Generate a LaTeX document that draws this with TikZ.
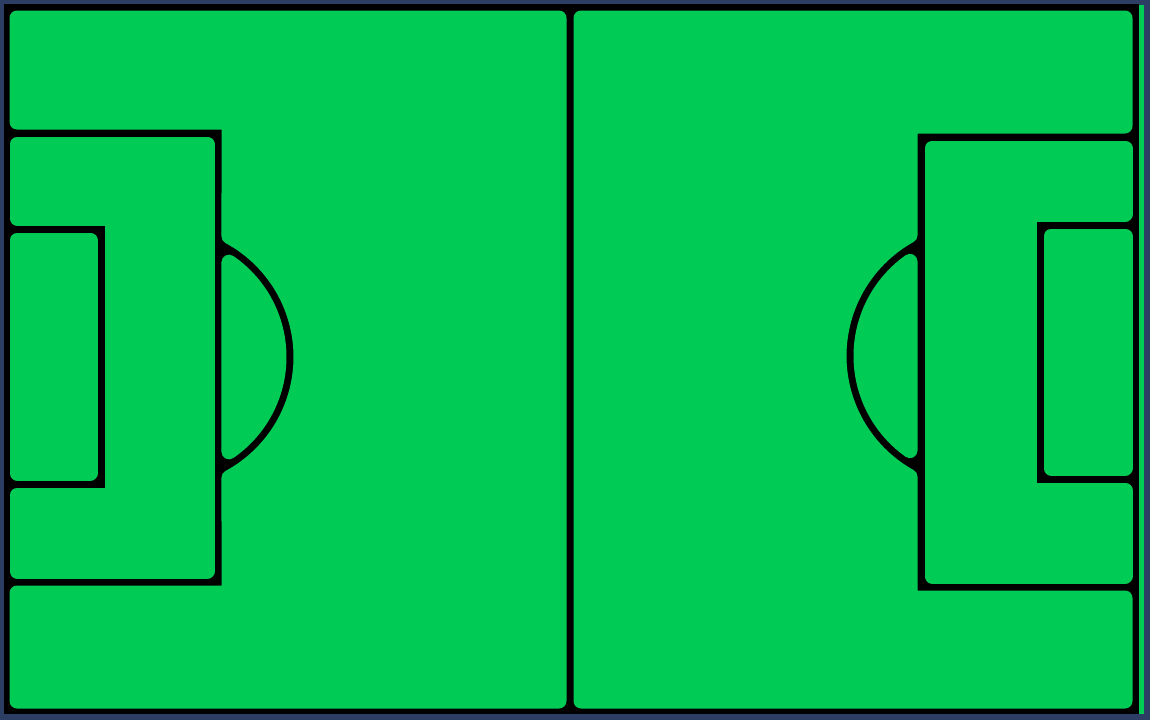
\documentclass[tikz,border=0pt]{standalone}
\definecolor{pitch}{RGB}{0,204,85}
\definecolor{navy}{RGB}{44,62,100}
\begin{document}
\begin{tikzpicture}[x=1pt,y=-1pt,
  region/.style={fill=pitch,draw=pitch,line width=15pt,line join=round}]
\useasboundingbox (0,0) rectangle (1150,720);
\fill[navy] (0,0) rectangle (1150,720);
\fill[black] (4,4) rectangle (1139,714);
\fill[pitch] (1139,5) rectangle (1144,714);
\pgfmathsetmacro\aLo{acos(65/137)}
\pgfmathsetmacro\aLi{acos(65/115)}
\pgfmathsetmacro\aRo{acos(67/138)}
\pgfmathsetmacro\aRi{acos(67/116)}
% left half
\path[region] (17,18) -- (559,18) -- (559,701) -- (17,701) -- (17,593) -- (229,593)
  -- plot[domain=-\aLo:\aLo,samples=60] ({164+137*cos(\x)},{357-137*sin(\x)})
  -- (229,122) -- (17,122) -- cycle;
\path[region] plot[domain=-\aLi:\aLi,samples=60] ({164+115*cos(\x)},{357+115*sin(\x)}) -- cycle;
\path[region] (17,144) -- (207,144) -- (207,571) -- (17,571) -- (17,495) -- (112,495)
  -- (112,218) -- (17,218) -- cycle;
\path[region] (17,240) -- (90,240) -- (90,473) -- (17,473) -- cycle;
% right half
\path[region] (581,18) -- (1125,18) -- (1125,126) -- (910,126)
  -- plot[domain=-\aRo:\aRo,samples=60] ({977-138*cos(\x)},{356+138*sin(\x)})
  -- (910,598) -- (1125,598) -- (1125,701) -- (581,701) -- cycle;
\path[region] plot[domain=-\aRi:\aRi,samples=60] ({977-116*cos(\x)},{356+116*sin(\x)}) -- cycle;
\path[region] (932,148) -- (1125,148) -- (1125,214) -- (1029,214) -- (1029,490)
  -- (1125,490) -- (1125,576) -- (932,576) -- cycle;
\path[region] (1051,236) -- (1125,236) -- (1125,468) -- (1051,468) -- cycle;
\end{tikzpicture}
\end{document}
